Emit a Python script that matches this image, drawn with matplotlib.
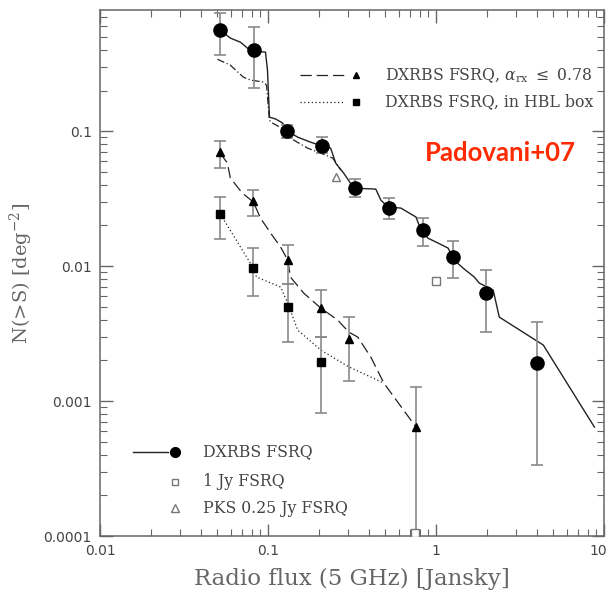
import numpy as np
import matplotlib
matplotlib.use("Agg")
import matplotlib.pyplot as plt
from matplotlib.ticker import LogLocator, NullFormatter, FixedLocator, FixedFormatter
import matplotlib.transforms as mtransforms

plt.rcParams['mathtext.fontset'] = 'dejavuserif'

# ---------------- data ----------------
# DXRBS FSRQ (filled circles)
circ_x = [0.0520, 0.0830, 0.1305, 0.2085, 0.328, 0.523, 0.841, 1.263, 1.99, 4.01]
circ_y = [0.560, 0.398, 0.100, 0.0774, 0.0379, 0.0269, 0.0185, 0.01167, 0.00631, 0.00191]
circ_hi = [0.748, 0.589, 0.1107, 0.0903, 0.0441, 0.0319, 0.0227, 0.0153, 0.00933, 0.00385]
circ_lo = [0.366, 0.208, 0.0887, 0.0687, 0.0324, 0.0223, 0.0141, 0.00815, 0.00324, 0.000336]

# DXRBS FSRQ, alpha_rx <= 0.78 (filled triangles)
tri_x = [0.0520, 0.0818, 0.1324, 0.2055, 0.303, 0.760]
tri_y = [0.0698, 0.0303, 0.01107, 0.00489, 0.00288, 0.000641]
tri_hi = [0.0843, 0.0366, 0.0143, 0.00664, 0.00419, 0.00127]
tri_lo = [0.0532, 0.0234, 0.00736, 0.00298, 0.00141, 0.00001]

# DXRBS FSRQ, in HBL box (filled squares)
sq_x = [0.0520, 0.0818, 0.1324, 0.2055]
sq_y = [0.0243, 0.00966, 0.00497, 0.00195]
sq_hi = [0.0324, 0.0136, 0.00736, 0.00298]
sq_lo = [0.01585, 0.0060, 0.00273, 0.000815]

# 1 Jy FSRQ (open squares)
jy_x = [1.00, 0.750]
jy_y = [0.00774, 0.000105]

# PKS 0.25 Jy FSRQ (open triangle)
pks_x = [0.253]
pks_y = [0.0456]

# DXRBS FSRQ cumulative counts (solid curve)
solid_x = [0.0520, 0.0597, 0.0686, 0.0755, 0.0819, 0.0966, 0.0993, 0.102, 0.111, 0.122,
           0.131, 0.150, 0.179, 0.212, 0.236, 0.253, 0.282, 0.324, 0.438, 0.470,
           0.517, 0.618, 0.760, 0.814, 0.896, 1.03, 1.18, 1.28, 1.45, 1.69,
           1.81, 2.19, 2.38, 4.35, 8.77]
solid_y = [0.560, 0.489, 0.456, 0.412, 0.392, 0.385, 0.283, 0.127, 0.123, 0.115,
           0.100, 0.0903, 0.0829, 0.0774, 0.0748, 0.0579, 0.0489, 0.0378, 0.0372, 0.0308,
           0.0274, 0.0269, 0.0231, 0.0185, 0.0161, 0.0148, 0.0136, 0.0111, 0.00966, 0.00829,
           0.00748, 0.00664, 0.00419, 0.00260, 0.000641]

# dash-dot curve
dd_x = [0.0500, 0.0597, 0.0714, 0.0787, 0.0940, 0.098, 0.102, 0.106, 0.127, 0.136,
        0.172, 0.206, 0.243, 0.271]
dd_y = [0.341, 0.308, 0.251, 0.239, 0.231, 0.219, 0.120, 0.115, 0.1017, 0.0887,
        0.0748, 0.0687, 0.0631, 0.0514]

# alpha_rx <= 0.78 curve (long dashes)
da_x = [0.0520, 0.0573, 0.0597, 0.0704, 0.0819, 0.0902, 0.1035, 0.119, 0.131, 0.136,
        0.163, 0.206, 0.260, 0.303, 0.342, 0.409, 0.489, 0.760]
da_y = [0.0687, 0.0579, 0.0449, 0.0347, 0.0298, 0.0227, 0.0176, 0.0138, 0.0111, 0.00829,
        0.00631, 0.00489, 0.00398, 0.00324, 0.00298, 0.00212, 0.00136, 0.000641]

# HBL box curve (dotted)
do_x = [0.0520, 0.0819, 0.0854, 0.119, 0.1325, 0.150, 0.206, 0.303, 0.489]
do_y = [0.0243, 0.00966, 0.00829, 0.00699, 0.00514, 0.00336, 0.00239, 0.00179, 0.00136]

x_ticks = [0.01, 0.1, 1, 10]
x_ticklabels = ['0.01', '0.1', '1', '10']
y_ticks = [1e-4, 1e-3, 1e-2, 1e-1]
y_ticklabels = ['0.0001', '0.001', '0.01', '0.1']

# ---------------- figure ----------------
W, H = 611, 592
fig = plt.figure(figsize=(W / 100, H / 100), dpi=100)
ax = fig.add_axes([100 / W, 1 - 536 / H, 504 / W, 526 / H])
ax.set_xscale('log')
ax.set_yscale('log')
ax.set_xlim(0.01, 10)
ax.set_ylim(1e-4, 0.79)

line_col = '#222222'
err_col = '#8a8a8a'

ax.plot(solid_x, solid_y, '-', color=line_col, lw=1.0)
ax.plot(dd_x, dd_y, color=line_col, lw=0.9, dashes=(6, 2, 1, 2))
ax.plot(da_x, da_y, color=line_col, lw=0.9, dashes=(9, 4))
ax.plot(do_x, do_y, color=line_col, lw=0.9, dashes=(1, 2))


def errs(y, lo, hi):
    y = np.array(y); lo = np.array(lo); hi = np.array(hi)
    return [y - lo, hi - y]


ax.errorbar(circ_x, circ_y, yerr=errs(circ_y, circ_lo, circ_hi), fmt='o', ms=9.5,
            color='black', ecolor=err_col, elinewidth=1.2, capsize=4.5, capthick=1.2, zorder=3)
ax.errorbar(tri_x, tri_y, yerr=errs(tri_y, tri_lo, tri_hi), fmt='^', ms=6,
            color='black', ecolor=err_col, elinewidth=1.2, capsize=4.5, capthick=1.2, zorder=3)
ax.errorbar(sq_x, sq_y, yerr=errs(sq_y, sq_lo, sq_hi), fmt='s', ms=5.5,
            color='black', ecolor=err_col, elinewidth=1.2, capsize=4.5, capthick=1.2, zorder=3)
ax.plot(jy_x, jy_y, 's', ms=5.5, mfc='white', mec='#777777', mew=1.0, zorder=4)
ax.plot(pks_x, pks_y, '^', ms=6, mfc='white', mec='#777777', mew=1.0, zorder=4)

# ticks
ax.tick_params(which='both', direction='in', top=True, right=True, colors='#666666')
ax.tick_params(which='major', length=9, width=1.0, labelsize=10, labelcolor='#444444', pad=6)
ax.tick_params(which='minor', length=5, width=0.8)
ax.xaxis.set_major_locator(FixedLocator(x_ticks))
ax.xaxis.set_major_formatter(FixedFormatter(x_ticklabels))
ax.yaxis.set_major_locator(FixedLocator(y_ticks))
ax.yaxis.set_major_formatter(FixedFormatter(y_ticklabels))
ax.xaxis.set_minor_locator(LogLocator(base=10, subs=np.arange(2, 10)))
ax.yaxis.set_minor_locator(LogLocator(base=10, subs=np.arange(2, 10)))
ax.xaxis.set_minor_formatter(NullFormatter())
ax.yaxis.set_minor_formatter(NullFormatter())
for s in ax.spines.values():
    s.set_color('#666666')
    s.set_linewidth(1.1)

# keep the last x tick label inside the canvas
fig.canvas.draw()
last = ax.get_xticklabels()[-1]
last.set_transform(last.get_transform() + mtransforms.ScaledTranslation(-6 / 100, 0, fig.dpi_scale_trans))

ax.set_xlabel('Radio flux (5 GHz) [Jansky]', labelpad=7, family='DejaVu Serif',
              color='#666666', fontsize=16.5)
ax.set_ylabel(r'N(>S) [deg$^{-2}$]', labelpad=6, family='DejaVu Serif',
              color='#666666', fontsize=14)

# upper legend
leg_font = dict(family='DejaVu Serif', color='#444444', fontsize=11.3, va='center')
T = ax.transAxes
ax.plot([0.397, 0.486], [0.876, 0.876], transform=T, color=line_col, lw=0.9, dashes=(9, 4))
ax.plot([0.508], [0.876], '^', transform=T, color='black', ms=5)
ax.text(0.565, 0.876, r'DXRBS FSRQ, $\alpha_{\rm rx}$ $\leq$ 0.78', transform=T, **leg_font)
ax.plot([0.397, 0.486], [0.825, 0.825], transform=T, color=line_col, lw=0.9, dashes=(1, 2))
ax.plot([0.508], [0.825], 's', transform=T, color='black', ms=4.5)
ax.text(0.565, 0.825, 'DXRBS FSRQ, in HBL box', transform=T, **leg_font)

# lower legend
ax.plot([0.065, 0.135], [0.160, 0.160], transform=T, color=line_col, lw=1.0)
ax.plot([0.149], [0.160], 'o', transform=T, color='black', ms=7)
ax.text(0.204, 0.160, 'DXRBS FSRQ', transform=T, **leg_font)
ax.plot([0.149], [0.103], 's', transform=T, mfc='white', mec='#777777', ms=5)
ax.text(0.204, 0.103, '1 Jy FSRQ', transform=T, **leg_font)
ax.plot([0.149], [0.053], '^', transform=T, mfc='white', mec='#777777', ms=5.5)
ax.text(0.204, 0.053, 'PKS 0.25 Jy FSRQ', transform=T, **leg_font)

ax.text(0.794, 0.728, 'Padovani+07', transform=T, color='#ff2a00', fontsize=18.5,
        fontweight='bold', family='Lato', ha='center', va='center')

fig.savefig('out.png', dpi=100)
